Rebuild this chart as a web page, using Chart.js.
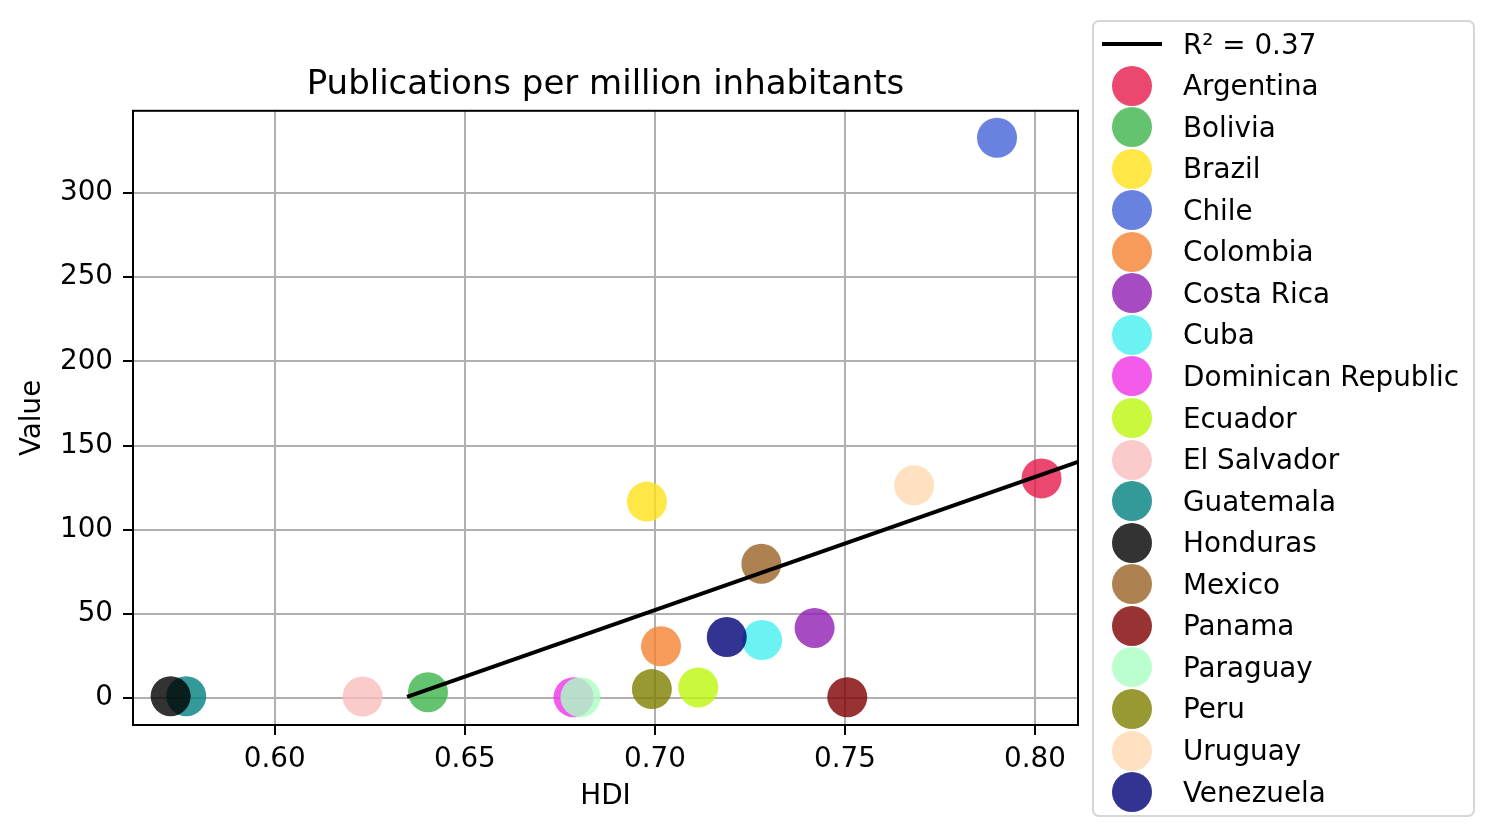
<!DOCTYPE html>
<html>
<head>
<meta charset="utf-8">
<script src="https://cdn.jsdelivr.net/npm/chart.js@4/dist/chart.umd.min.js"></script>
<style>
    body { margin: 0; background: #fff; font-family: "DejaVu Sans", sans-serif; }
    #wrap { position: relative; width: 1495px; height: 837px; }
    #legend {
        position: absolute; left: 1092px; top: 20px; width: 379px; height: 793px;
        border: 2px solid #d6d6d6; border-radius: 7px; box-sizing: content-box;
    }
    .row { position: absolute; left: 0; height: 42px; display: flex; align-items: center; font-size: 27.8px; color: #000; white-space: nowrap; }
    .sym { width: 89px; height: 42px; position: relative; }
    .dot { position: absolute; left: 18px; top: 1px; width: 40px; height: 40px; border-radius: 50%; }
    .ln { position: absolute; left: 8px; top: 19px; width: 60px; height: 4px; background: #000; }
</style>
</head>
<body>
<div id="wrap">
    <canvas id="chart" width="1495" height="837"></canvas>
    <div id="legend"></div>
</div>
<script>
const countries = ["Argentina", "Bolivia", "Brazil", "Chile", "Colombia", "Costa Rica", "Cuba",
    "Dominican Republic", "Ecuador", "El Salvador", "Guatemala", "Honduras", "Mexico", "Panama",
    "Paraguay", "Peru", "Uruguay", "Venezuela"];
const hdi = [0.8017, 0.6403, 0.6979, 0.7900, 0.7016, 0.7420, 0.7282,
    0.6786, 0.7114, 0.6231, 0.5767, 0.5726, 0.7280, 0.7506,
    0.6804, 0.6992, 0.7682, 0.7189];
const pubs = [130.5, 3.6, 116.7, 332.7, 30.8, 41.7, 34.5,
    0.6, 6.4, 1.0, 1.2, 1.2, 79.8, 0.6,
    0.6, 5.4, 126.4, 36.3];
const colors = ["#e6194b", "#3cb44b", "#ffe119", "#4363d8", "#f58231", "#911eb4", "#46f0f0",
    "#f032e6", "#bcf60c", "#fabebe", "#008080", "#000000", "#9a6324", "#800000",
    "#aaffc3", "#808000", "#ffd8b1", "#000075"];
const fitX = [0.6348, 0.8113];
const fitY = [0.8, 140.3];
const fitLabel = "R² = 0.37";

function withAlpha(hex, a) {
    const r = parseInt(hex.slice(1, 3), 16);
    const g = parseInt(hex.slice(3, 5), 16);
    const b = parseInt(hex.slice(5, 7), 16);
    return `rgba(${r},${g},${b},${a})`;
}

const font = "'DejaVu Sans', sans-serif";

const datasets = countries.map((name, i) => ({
    label: name,
    data: [{ x: hdi[i], y: pubs[i] }],
    backgroundColor: withAlpha(colors[i], 0.8),
    borderWidth: 0,
    pointRadius: 20,
    pointHoverRadius: 20,
    order: -i,
}));

datasets.push({
    type: "line",
    label: fitLabel,
    data: fitX.map((x, i) => ({ x: x, y: fitY[i] })),
    borderColor: "#000",
    borderWidth: 4,
    pointRadius: 0,
    fill: false,
    order: -100,
});

// matplotlib style frame round the plot area
const framePlugin = {
    id: "frame",
    afterDatasetsDraw(chart) {
        const { ctx, chartArea: a } = chart;
        ctx.save();
        ctx.strokeStyle = "#000";
        ctx.lineWidth = 2;
        ctx.strokeRect(a.left, a.top, a.right - a.left, a.bottom - a.top);
        ctx.restore();
    },
};

new Chart(document.getElementById("chart"), {
    type: "scatter",
    data: { datasets: datasets },
    plugins: [framePlugin],
    options: {
        responsive: false,
        animation: false,
        layout: { padding: { left: 0, right: 417, top: 0, bottom: 0 } },
        plugins: {
            legend: { display: false },
            tooltip: { enabled: false },
            title: {
                display: true,
                text: "Publications per million inhabitants",
                fullSize: false,
                color: "#000",
                font: { family: font, size: 34, weight: "normal" },
                padding: { top: 65, bottom: 5 },
            },
        },
        scales: {
            x: {
                type: "linear",
                min: 0.5627,
                max: 0.8113,
                afterFit: (scale) => { scale.height = 112; },
                border: { color: "#000", width: 2 },
                grid: { color: "#b0b0b0", lineWidth: 2, tickLength: 10, tickColor: "#000", tickWidth: 2 },
                ticks: {
                    stepSize: 0.05,
                    includeBounds: false,
                    maxRotation: 0,
                    padding: 8,
                    color: "#000",
                    font: { family: font, size: 27.8 },
                    callback: (v) => v.toFixed(2),
                },
                title: {
                    display: true,
                    text: "HDI",
                    color: "#000",
                    font: { family: font, size: 27.8 },
                    padding: { top: 0, bottom: 24 },
                },
            },
            y: {
                type: "linear",
                min: -15.9,
                max: 348.7,
                afterFit: (scale) => { scale.width = 133; },
                border: { color: "#000", width: 2 },
                grid: { color: "#b0b0b0", lineWidth: 2, tickLength: 10, tickColor: "#000", tickWidth: 2 },
                ticks: {
                    stepSize: 50,
                    includeBounds: false,
                    padding: 10,
                    color: "#000",
                    font: { family: font, size: 27.8 },
                },
                title: {
                    display: true,
                    text: "Value",
                    color: "#000",
                    font: { family: font, size: 27.8 },
                    padding: { top: 16, bottom: 0 },
                },
            },
        },
    },
});

// legend, same order as matplotlib: fit line first, then the countries
const legend = document.getElementById("legend");
const rowStep = 41.56;
const rows = [{ label: fitLabel, line: true }].concat(countries.map((c, i) => ({ label: c, color: colors[i] })));
rows.forEach((r, i) => {
    const row = document.createElement("div");
    row.className = "row";
    row.style.top = (42 - 20 - 21 + i * rowStep) + "px";
    const sym = document.createElement("div");
    sym.className = "sym";
    const mark = document.createElement("div");
    if (r.line) {
        mark.className = "ln";
    } else {
        mark.className = "dot";
        mark.style.background = withAlpha(r.color, 0.8);
    }
    sym.appendChild(mark);
    const txt = document.createElement("span");
    txt.textContent = r.label;
    row.appendChild(sym);
    row.appendChild(txt);
    legend.appendChild(row);
});
</script>
</body>
</html>
